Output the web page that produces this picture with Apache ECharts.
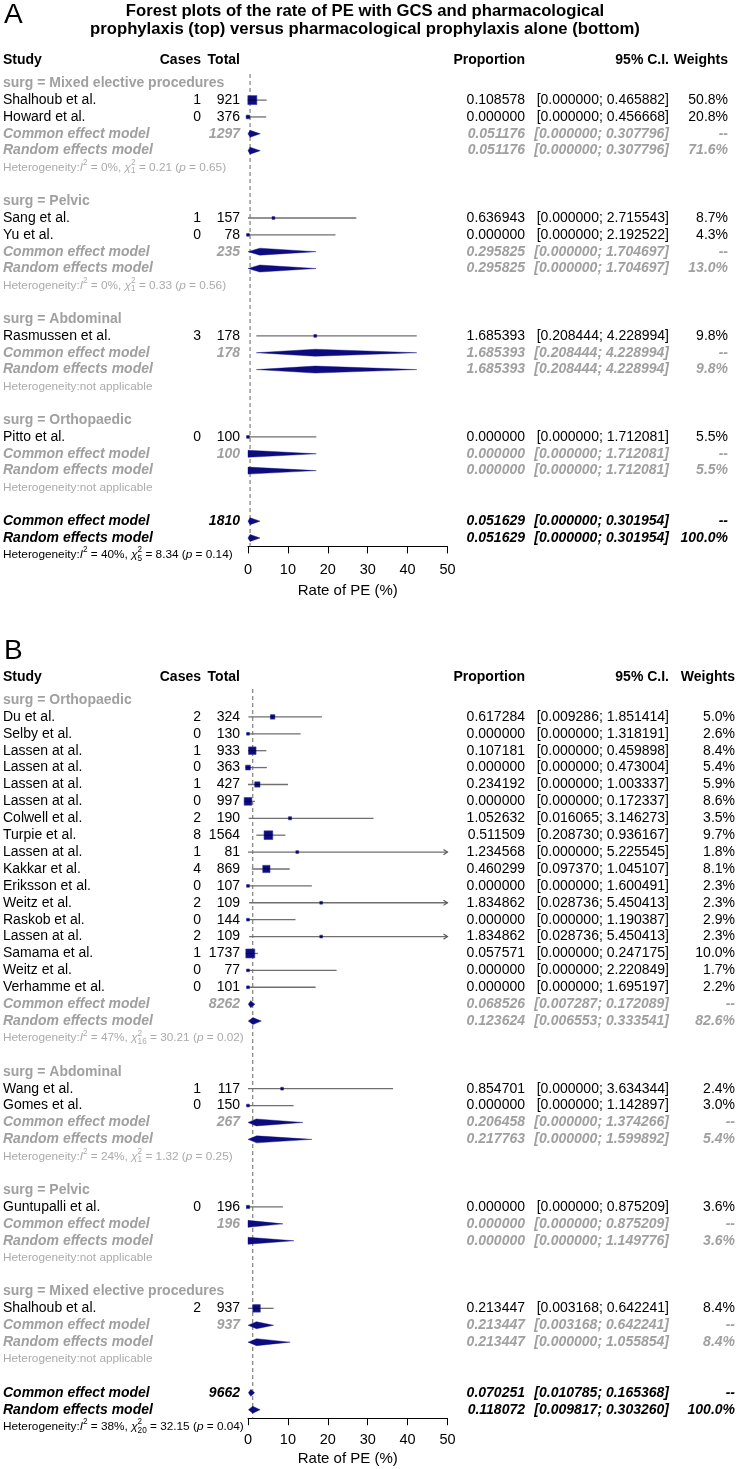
<!DOCTYPE html>
<html><head><meta charset="utf-8">
<script src="https://cdn.jsdelivr.net/npm/echarts@6/dist/echarts.min.js"></script>
<style>html,body{margin:0;padding:0;background:#fff}#c{width:738px;height:1469px}</style>
</head><body><div id="c"></div>
<script>
// ---------------- Panel A data ----------------
const aGroups = ['Mixed elective procedures', 'Pelvic', 'Abdominal', 'Orthopaedic'];
const aStudy = ['Shalhoub et al.', 'Howard et al.', 'Sang et al.', 'Yu et al.', 'Rasmussen et al.', 'Pitto et al.'];
const aStudyGroup = [0, 0, 1, 1, 2, 3];
const aCases = [1, 0, 1, 0, 3, 0];
const aTotal = [921, 376, 157, 78, 178, 100];
const aProp = [0.108578, 0.000000, 0.636943, 0.000000, 1.685393, 0.000000];
const aLower = [0.000000, 0.000000, 0.000000, 0.000000, 0.208444, 0.000000];
const aUpper = [0.465882, 0.456668, 2.715543, 2.192522, 4.228994, 1.712081];
const aWeight = [50.8, 20.8, 8.7, 4.3, 9.8, 5.5];
const aSubTotal = [1297, 235, 178, 100];
const aSubCommon = [[0.051176, 0.000000, 0.307796], [0.295825, 0.000000, 1.704697], [1.685393, 0.208444, 4.228994], [0.000000, 0.000000, 1.712081]];
const aSubRandom = [[0.051176, 0.000000, 0.307796], [0.295825, 0.000000, 1.704697], [1.685393, 0.208444, 4.228994], [0.000000, 0.000000, 1.712081]];
const aSubRandomWeight = [71.6, 13.0, 9.8, 5.5];
const aSubHet = [['0%', '1', '0.21', '0.65'], ['0%', '1', '0.33', '0.56'], null, null];
const aOverallTotal = 1810;
const aOverallCommon = [0.051629, 0.000000, 0.301954];
const aOverallRandom = [0.051629, 0.000000, 0.301954];
const aOverallHet = ['40%', '5', '8.34', '0.14'];

// ---------------- Panel B data ----------------
const bGroups = ['Orthopaedic', 'Abdominal', 'Pelvic', 'Mixed elective procedures'];
const bStudy = ['Du et al.', 'Selby et al.', 'Lassen at al.', 'Lassen at al.', 'Lassen at al.', 'Lassen at al.', 'Colwell et al.', 'Turpie et al.', 'Lassen at al.', 'Kakkar et al.', 'Eriksson et al.', 'Weitz et al.', 'Raskob et al.', 'Lassen at al.', 'Samama et al.', 'Weitz et al.', 'Verhamme et al.', 'Wang et al.', 'Gomes et al.', 'Guntupalli et al.', 'Shalhoub et al.'];
const bStudyGroup = [0, 0, 0, 0, 0, 0, 0, 0, 0, 0, 0, 0, 0, 0, 0, 0, 0, 1, 1, 2, 3];
const bCases = [2, 0, 1, 0, 1, 0, 2, 8, 1, 4, 0, 2, 0, 2, 1, 0, 0, 1, 0, 0, 2];
const bTotal = [324, 130, 933, 363, 427, 997, 190, 1564, 81, 869, 107, 109, 144, 109, 1737, 77, 101, 117, 150, 196, 937];
const bProp = [0.617284, 0.000000, 0.107181, 0.000000, 0.234192, 0.000000, 1.052632, 0.511509, 1.234568, 0.460299, 0.000000, 1.834862, 0.000000, 1.834862, 0.057571, 0.000000, 0.000000, 0.854701, 0.000000, 0.000000, 0.213447];
const bLower = [0.009286, 0.000000, 0.000000, 0.000000, 0.000000, 0.000000, 0.016065, 0.208730, 0.000000, 0.097370, 0.000000, 0.028736, 0.000000, 0.028736, 0.000000, 0.000000, 0.000000, 0.000000, 0.000000, 0.000000, 0.003168];
const bUpper = [1.851414, 1.318191, 0.459898, 0.473004, 1.003337, 0.172337, 3.146273, 0.936167, 5.225545, 1.045107, 1.600491, 5.450413, 1.190387, 5.450413, 0.247175, 2.220849, 1.695197, 3.634344, 1.142897, 0.875209, 0.642241];
const bWeight = [5.0, 2.6, 8.4, 5.4, 5.9, 8.6, 3.5, 9.7, 1.8, 8.1, 2.3, 2.3, 2.9, 2.3, 10.0, 1.7, 2.2, 2.4, 3.0, 3.6, 8.4];
const bSubTotal = [8262, 267, 196, 937];
const bSubCommon = [[0.068526, 0.007287, 0.172089], [0.206458, 0.000000, 1.374266], [0.000000, 0.000000, 0.875209], [0.213447, 0.003168, 0.642241]];
const bSubRandom = [[0.123624, 0.006553, 0.333541], [0.217763, 0.000000, 1.599892], [0.000000, 0.000000, 1.149776], [0.213447, 0.000000, 1.055854]];
const bSubRandomWeight = [82.6, 5.4, 3.6, 8.4];
const bSubHet = [['47%', '16', '30.21', '0.02'], ['24%', '1', '1.32', '0.25'], null, null];
const bOverallTotal = 9662;
const bOverallCommon = [0.070251, 0.010785, 0.165368];
const bOverallRandom = [0.118072, 0.009817, 0.303260];
const bOverallHet = ['38%', '20', '32.15', '0.04'];

// axis ticks
const xTicks = [0, 10, 20, 30, 40, 50];
const SCALE = 10; // proportion column -> plotted rate

// ---------------- styling / helpers ----------------
const FONT = '"Liberation Sans", Arial, Helvetica, sans-serif';
const GRAY = '#a0a0a0';
const HGRAY = '#ababab';
const NAVY = '#0c0c80';
const HET_SIZE = 11.8;
const mctx = document.createElement('canvas').getContext('2d');
function tw(t, size, it) { mctx.font = (it ? 'italic ' : '') + size + 'px ' + FONT; return mctx.measureText(t).width; }
function txt(x, y, text, o) {
  o = o || {};
  const al = o.align || 'left';
  return { type: 'text', x: x, y: y, style: {
    text: String(text), fill: o.color || '#000', fontSize: o.size || 14,
    fontWeight: o.bold ? 'bold' : 'normal', fontStyle: o.italic ? 'italic' : 'normal', fontFamily: FONT,
    align: al, textAlign: al, verticalAlign: 'middle', textVerticalAlign: 'middle' } };
}
function hetChildren(h, y, color) {
  const parts = h ? [
    { t: 'Heterogeneity:' }, { t: 'I', it: true }, { t: '2', sup: true }, { t: ' = ' + h[0] + ', ' },
    { t: 'χ', it: true }, { t: '2', sup: true, stack: true }, { t: h[1], sub: true },
    { t: ' = ' + h[2] + ' (' }, { t: 'p', it: true }, { t: ' = ' + h[3] + ')' }
  ] : [{ t: 'Heterogeneity:not applicable' }];
  let x = 3, pend = 0; const out = [];
  parts.forEach(p => {
    const size = (p.sup || p.sub) ? 8.2 : HET_SIZE;
    const w = tw(p.t, size, p.it);
    const dy = p.sup ? -4.6 : (p.sub ? 3.6 : 0);
    out.push(txt(x, y + dy, p.t, { size: size, italic: p.it, color: color }));
    if (p.stack) pend = w; else { x += Math.max(w, pend); pend = 0; }
  });
  return out;
}

function buildPanel(P) {
  const rows = [], studyData = [], diamondData = [];
  const wmax = Math.max.apply(null, P.weight);
  rows.push({ r: P.headerRow, kind: 'header' });
  let r = 1;
  P.groups.forEach((g, gi) => {
    rows.push({ r: r++, kind: 'group', label: 'surg = ' + g });
    P.study.forEach((s, i) => {
      if (P.group[i] !== gi) return;
      rows.push({ r: r, kind: 'study', label: s, cases: P.cases[i], total: P.total[i], prop: P.prop[i], lo: P.lower[i], hi: P.upper[i], wtxt: P.weight[i].toFixed(1) + '%' });
      studyData.push([P.prop[i] * SCALE, P.lower[i] * SCALE, P.upper[i] * SCALE, r, P.weight[i], wmax]);
      r++;
    });
    const c = P.subCommon[gi], q = P.subRandom[gi];
    rows.push({ r: r, kind: 'sub', label: 'Common effect model', total: P.subTotal[gi], prop: c[0], lo: c[1], hi: c[2], wtxt: '--' });
    diamondData.push([c[0] * SCALE, c[1] * SCALE, c[2] * SCALE, r]); r++;
    rows.push({ r: r, kind: 'sub', label: 'Random effects model', prop: q[0], lo: q[1], hi: q[2], wtxt: P.subRandomWeight[gi].toFixed(1) + '%' });
    diamondData.push([q[0] * SCALE, q[1] * SCALE, q[2] * SCALE, r]); r++;
    rows.push({ r: r++, kind: 'subHet', het: P.subHet[gi] });
    r++;
  });
  const c = P.allCommon, q = P.allRandom;
  rows.push({ r: r, kind: 'all', label: 'Common effect model', total: P.allTotal, prop: c[0], lo: c[1], hi: c[2], wtxt: '--' });
  diamondData.push([c[0] * SCALE, c[1] * SCALE, c[2] * SCALE, r]); r++;
  rows.push({ r: r, kind: 'all', label: 'Random effects model', prop: q[0], lo: q[1], hi: q[2], wtxt: '100.0%' });
  diamondData.push([q[0] * SCALE, q[1] * SCALE, q[2] * SCALE, r]); r++;
  rows.push({ r: r++, kind: 'allHet', het: P.allHet });
  return { rows, studyData, diamondData, ref: q[0] * SCALE };
}

function rowRenderer(rows, wRight) {
  return function (params, api) {
    const R = rows[params.dataIndex];
    const y = api.coord([0, R.r])[1];
    const ch = [];
    if (R.kind === 'header') {
      const o = { bold: true };
      ch.push(txt(3, y, 'Study', o), txt(201, y, 'Cases', Object.assign({ align: 'right' }, o)), txt(240, y, 'Total', Object.assign({ align: 'right' }, o)),
        txt(525, y, 'Proportion', Object.assign({ align: 'right' }, o)), txt(669, y, '95% C.I.', Object.assign({ align: 'right' }, o)), txt(wRight, y, 'Weights', Object.assign({ align: 'right' }, o)));
    } else if (R.kind === 'group') {
      ch.push(txt(3, y, R.label, { bold: true, color: GRAY }));
    } else if (R.kind === 'subHet') {
      ch.push.apply(ch, hetChildren(R.het, y, HGRAY));
    } else if (R.kind === 'allHet') {
      ch.push.apply(ch, hetChildren(R.het, y, '#000'));
    } else {
      let o;
      if (R.kind === 'study') o = {};
      else if (R.kind === 'sub') o = { bold: true, italic: true, color: GRAY };
      else o = { bold: true, italic: true };
      const ci = '[' + R.lo.toFixed(6) + '; ' + R.hi.toFixed(6) + ']';
      ch.push(txt(3, y, R.label, o));
      if (R.cases !== undefined) ch.push(txt(201, y, R.cases, Object.assign({ align: 'right' }, o)));
      if (R.total !== undefined) ch.push(txt(240, y, R.total, Object.assign({ align: 'right' }, o)));
      ch.push(txt(525, y, R.prop.toFixed(6), Object.assign({ align: 'right' }, o)));
      ch.push(txt(669, y, ci, Object.assign({ align: 'right' }, o)));
      ch.push(txt(wRight, y, R.wtxt, Object.assign({ align: 'right' }, o)));
    }
    return { type: 'group', children: ch };
  };
}

function renderStudy(params, api) {
  const est = api.value(0), lo = api.value(1), hi = api.value(2), row = api.value(3), w = api.value(4), wmax = api.value(5);
  const pE = api.coord([est, row]), pL = api.coord([lo, row]), pH = api.coord([Math.min(hi, 50), row]);
  const side = Math.max(2.8, 9 * w / wmax);
  const ch = [
    { type: 'line', shape: { x1: pL[0], y1: pL[1], x2: pH[0], y2: pH[1] }, style: { stroke: '#6f6f6f', lineWidth: 1.3 } },
    { type: 'rect', shape: { x: pE[0] - side / 2, y: pE[1] - side / 2, width: side, height: side }, style: { fill: NAVY, stroke: '#3a3aa0', lineWidth: 0.6 } },
    { type: 'line', shape: { x1: pE[0] - side / 2, y1: pE[1], x2: pE[0] + side / 2, y2: pE[1] }, style: { stroke: '#000030', lineWidth: 0.8 } }
  ];
  if (hi > 50) ch.push({ type: 'polyline', shape: { points: [[pH[0] - 4, pH[1] - 2.6], [pH[0], pH[1]], [pH[0] - 4, pH[1] + 2.6]] }, style: { stroke: '#555', lineWidth: 1.1, fill: null } });
  return { type: 'group', children: ch };
}

function renderDiamond(params, api) {
  const est = api.value(0), lo = api.value(1), hi = api.value(2), row = api.value(3);
  const pE = api.coord([est, row]), pL = api.coord([lo, row]), pH = api.coord([hi, row]);
  const h = 3.5;
  return { type: 'polygon', shape: { points: [[pL[0], pL[1]], [pE[0], pE[1] - h], [pH[0], pH[1]], [pE[0], pE[1] + h]] }, style: { fill: NAVY, stroke: NAVY, lineWidth: 0.4 } };
}

const PA = buildPanel({ headerRow: -0.38, groups: aGroups, study: aStudy, group: aStudyGroup, cases: aCases, total: aTotal, prop: aProp, lower: aLower, upper: aUpper, weight: aWeight,
  subTotal: aSubTotal, subCommon: aSubCommon, subRandom: aSubRandom, subRandomWeight: aSubRandomWeight, subHet: aSubHet,
  allTotal: aOverallTotal, allCommon: aOverallCommon, allRandom: aOverallRandom, allHet: aOverallHet });
const PB = buildPanel({ headerRow: -0.36, groups: bGroups, study: bStudy, group: bStudyGroup, cases: bCases, total: bTotal, prop: bProp, lower: bLower, upper: bUpper, weight: bWeight,
  subTotal: bSubTotal, subCommon: bSubCommon, subRandom: bSubRandom, subRandomWeight: bSubRandomWeight, subHet: bSubHet,
  allTotal: bOverallTotal, allCommon: bOverallCommon, allRandom: bOverallRandom, allHet: bOverallHet });

const yA = [0.45, 28.5], yB = [0.35, 43.5];

function xAxisCfg(gi, margin, gap) {
  return { gridIndex: gi, type: 'value', min: xTicks[0], max: xTicks[xTicks.length - 1], interval: xTicks[1] - xTicks[0], position: 'bottom',
    name: 'Rate of PE (%)', nameLocation: 'middle', nameGap: gap, nameTextStyle: { fontSize: 15, color: '#000', fontFamily: FONT },
    axisLine: { show: true, lineStyle: { color: '#000', width: 1 } }, axisTick: { show: true, length: 7, lineStyle: { color: '#000' } },
    axisLabel: { fontSize: 14.5, color: '#000', fontFamily: FONT, margin: margin }, splitLine: { show: false } };
}
function yAxisCfg(gi, ext) { return { gridIndex: gi, type: 'value', inverse: true, min: ext[0], max: ext[1], show: false, splitLine: { show: false } }; }

function panelSeries(P, idx, ext, wRight) {
  return [
    { type: 'line', xAxisIndex: idx, yAxisIndex: idx, data: [[P.ref, ext[0]], [P.ref, ext[1]]], symbol: 'none', silent: true,
      lineStyle: { color: '#808080', width: 1.2, type: [4, 3] }, z: 1 },
    { type: 'custom', xAxisIndex: idx, yAxisIndex: idx, data: P.diamondData, renderItem: renderDiamond, clip: false, z: 3 },
    { type: 'custom', xAxisIndex: idx, yAxisIndex: idx, data: P.studyData, renderItem: renderStudy, clip: false, z: 3 },
    { type: 'custom', xAxisIndex: idx, yAxisIndex: idx, data: P.rows.map(R => [0, R.r]), renderItem: rowRenderer(P.rows, wRight), clip: false, z: 4 }
  ];
}

const chart = echarts.init(document.getElementById('c'), null, { renderer: 'canvas' });
chart.setOption({
  animation: false,
  backgroundColor: '#fff',
  graphic: [
    { type: 'text', x: 4, y: 15, style: { text: 'A', fontSize: 28, fontFamily: FONT, fill: '#000', verticalAlign: 'middle', textVerticalAlign: 'middle' } },
    { type: 'text', x: 365, y: 11, style: { text: 'Forest plots of the rate of PE with GCS and pharmacological', fontSize: 16.7, fontWeight: 'bold', fontFamily: FONT, fill: '#000', align: 'center', textAlign: 'center', verticalAlign: 'middle', textVerticalAlign: 'middle' } },
    { type: 'text', x: 365, y: 29, style: { text: 'prophylaxis (top) versus pharmacological prophylaxis alone (bottom)', fontSize: 16.7, fontWeight: 'bold', fontFamily: FONT, fill: '#000', align: 'center', textAlign: 'center', verticalAlign: 'middle', textVerticalAlign: 'middle' } },
    { type: 'text', x: 4, y: 651, style: { text: 'B', fontSize: 28, fontFamily: FONT, fill: '#000', verticalAlign: 'middle', textVerticalAlign: 'middle' } }
  ],
  grid: [
    { left: 248, width: 199.5, top: 74.0, height: 472.4 },
    { left: 248, width: 199.5, top: 689.0, height: 729.2 }
  ],
  xAxis: [xAxisCfg(0, 16, 37), xAxisCfg(1, 14, 33)],
  yAxis: [yAxisCfg(0, yA), yAxisCfg(1, yB)],
  series: panelSeries(PA, 0, yA, 728).concat(panelSeries(PB, 1, yB, 735))
});
</script></body></html>
